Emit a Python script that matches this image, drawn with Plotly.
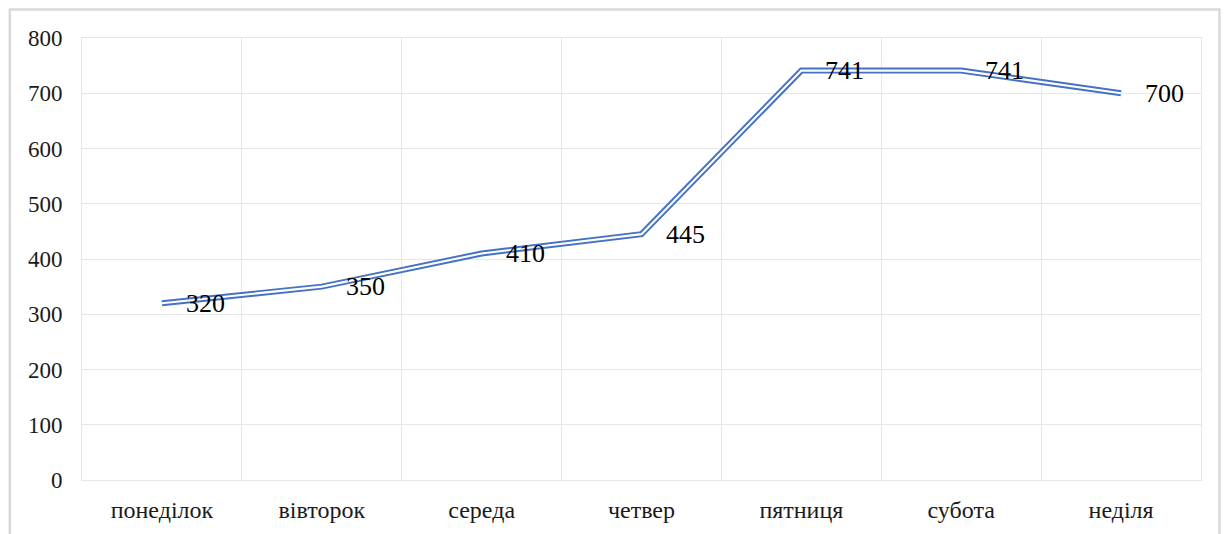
import plotly.graph_objects as go

days = ["понеділок", "вівторок", "середа", "четвер", "пятниця", "субота", "неділя"]
values = [320, 350, 410, 445, 741, 741, 700]
y_ticks = [0, 100, 200, 300, 400, 500, 600, 700, 800]

BLUE = "#4472C4"
GRID = "#e6e6e6"
FONT = "Liberation Serif"

fig = go.Figure()
# outer blue stroke
fig.add_trace(go.Scatter(x=days, y=values, mode="lines",
                         line=dict(color=BLUE, width=6.0), hoverinfo="skip", showlegend=False))
# inner white stroke -> double line effect
fig.add_trace(go.Scatter(x=days, y=values, mode="lines",
                         line=dict(color="white", width=2.1), hoverinfo="skip", showlegend=False))

for d, v in zip(days, values):
    fig.add_annotation(x=d, y=v, text=str(v), showarrow=False, xanchor="left", yanchor="middle",
                       xshift=22, yshift=0, font=dict(family=FONT, size=26, color="#000000"))

# outer chart frame
fig.add_shape(type="rect", xref="paper", yref="paper", x0=-0.0645, x1=1.0165, y0=-0.2, y1=1.0645,
              line=dict(color="#d9d9d9", width=2.5), fillcolor="rgba(0,0,0,0)", layer="below")

fig.update_layout(
    width=1231, height=534,
    margin=dict(l=82, r=30, t=38, b=54),
    paper_bgcolor="white", plot_bgcolor="white",
    showlegend=False,
    font=dict(family=FONT, size=23, color="#1a1a1a"),
)
fig.update_xaxes(type="category", tickson="boundaries", showgrid=True, gridcolor=GRID, gridwidth=1,
                 showline=True, linecolor=GRID, linewidth=1, mirror=True, ticks="",
                 ticklabelstandoff=8, automargin=False,
                 range=[-0.5, 6.5], tickfont=dict(family=FONT, size=24, color="#1a1a1a"))
fig.update_yaxes(range=[0, 800], tickvals=y_ticks, showgrid=True, gridcolor=GRID, gridwidth=1,
                 showline=True, linecolor=GRID, linewidth=1, mirror=True, ticks="outside", ticklen=14,
                 tickcolor="rgba(0,0,0,0)", zeroline=False, automargin=False,
                 tickfont=dict(family=FONT, size=23, color="#1a1a1a"))

fig.write_html("out.html")
